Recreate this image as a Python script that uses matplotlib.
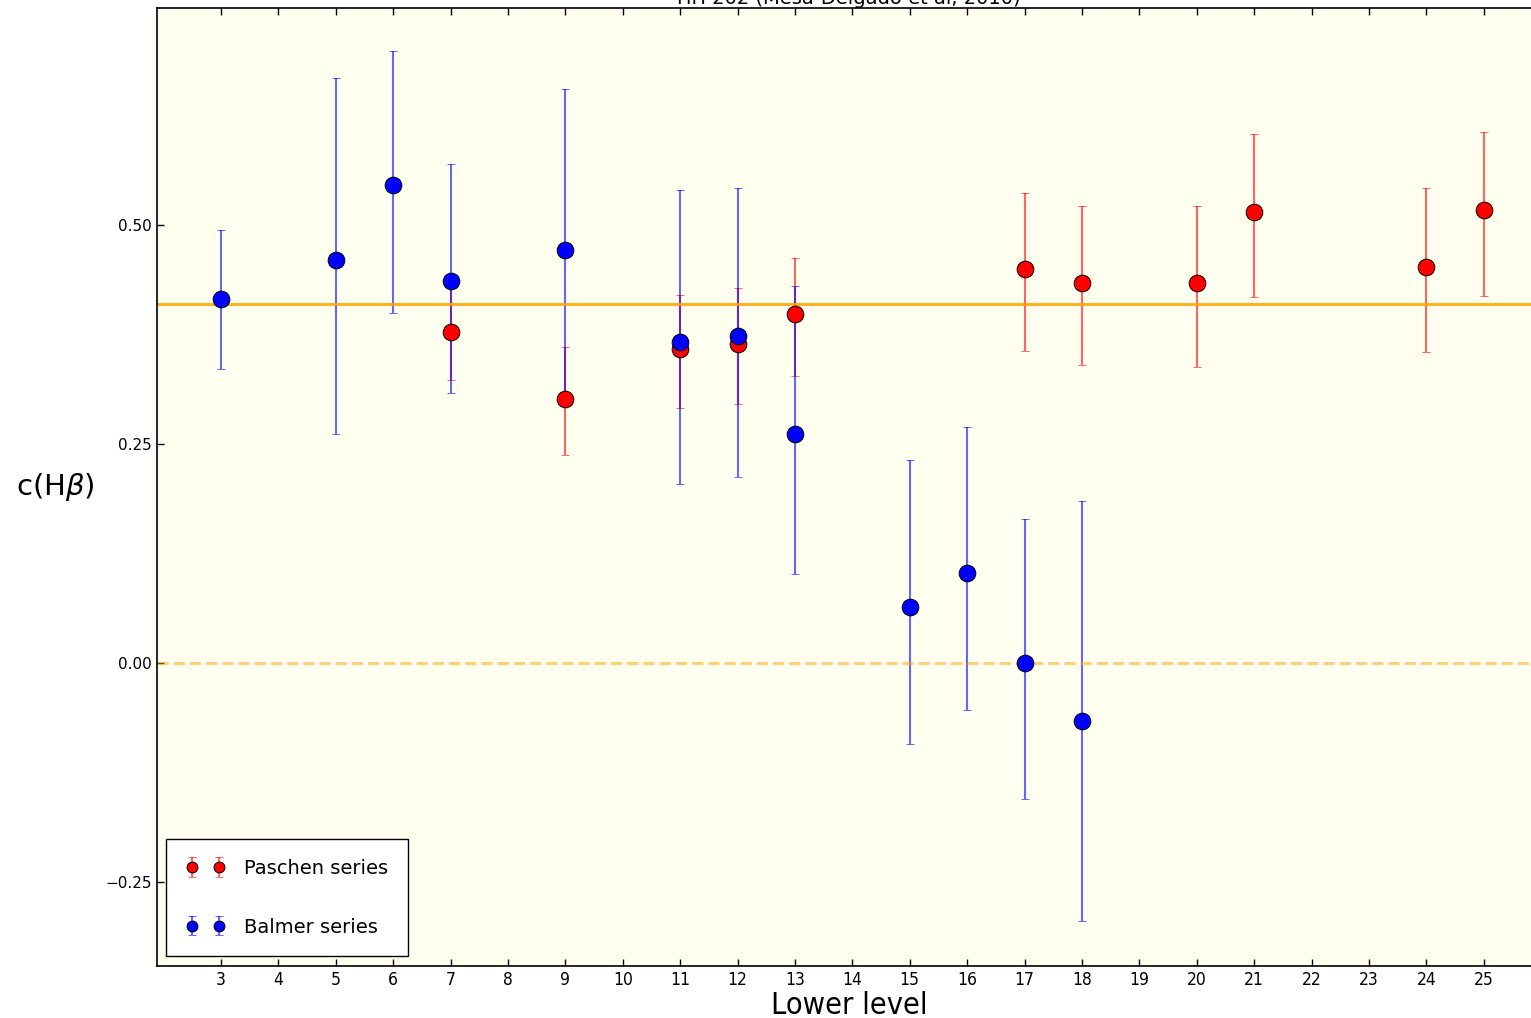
import matplotlib
matplotlib.use('Agg')
import matplotlib.pyplot as plt
from matplotlib import font_manager

# c(Hbeta) from Paschen and Balmer lines versus lower level
paschen_level = [7, 9, 11, 12, 13, 17, 18, 20, 21, 24, 25]
paschen_c = [0.378, 0.302, 0.358, 0.364, 0.398, 0.450, 0.434, 0.434, 0.515, 0.452, 0.517]
paschen_err_lo = [0.055, 0.064, 0.067, 0.068, 0.070, 0.094, 0.094, 0.096, 0.097, 0.097, 0.098]
paschen_err_hi = [0.051, 0.059, 0.062, 0.064, 0.064, 0.087, 0.088, 0.088, 0.089, 0.090, 0.089]

balmer_level = [3, 5, 6, 7, 9, 11, 12, 13, 15, 16, 17, 18]
balmer_c = [0.416, 0.460, 0.546, 0.436, 0.472, 0.367, 0.373, 0.261, 0.064, 0.103, 0.000, -0.066]
balmer_err_lo = [0.080, 0.198, 0.146, 0.128, 0.169, 0.163, 0.161, 0.159, 0.156, 0.156, 0.155, 0.228]
balmer_err_hi = [0.078, 0.208, 0.152, 0.133, 0.183, 0.173, 0.169, 0.169, 0.168, 0.167, 0.164, 0.251]

c_adopted = 0.41
xticks = list(range(3, 26))
yticks = [-0.25, 0.0, 0.25, 0.5]

# narrow face for the x axis texts, if one is around
names = {f.name for f in font_manager.fontManager.ttflist}
narrow = 'Liberation Sans Narrow' if 'Liberation Sans Narrow' in names else 'DejaVu Sans'

fig = plt.figure(figsize=(15.31, 10.18), dpi=100)
ax = fig.add_axes([0.1023, 0.0514, 0.9043, 0.9403])
ax.set_facecolor('#fffff0')

ax.errorbar(paschen_level, paschen_c, yerr=[paschen_err_lo, paschen_err_hi],
            fmt='o', color='red', mec='black', mew=0.7, ms=12,
            ecolor=(1, 0, 0, 0.6), elinewidth=1.5, capsize=3, label='Paschen series')
ax.errorbar(balmer_level, balmer_c, yerr=[balmer_err_lo, balmer_err_hi],
            fmt='o', color='blue', mec='black', mew=0.7, ms=12,
            ecolor=(0, 0, 1, 0.6), elinewidth=1.5, capsize=3, label='Balmer series')

ax.axhline(c_adopted, color='orange', lw=2.2, alpha=0.85)
ax.axhline(0.0, color='orange', lw=2.2, ls='--', alpha=0.5)

ax.set_xlim(1.88, 26)
ax.set_ylim(-0.345, 0.747)
ax.set_xticks(xticks)
ax.set_xticklabels([str(t) for t in xticks], family=narrow, fontstretch='condensed', fontsize=12.5)
ax.set_yticks(yticks)
ax.set_yticklabels(['\u22120.25', '0.00', '0.25', '0.50'], fontsize=11)
ax.tick_params(direction='in', top=True, right=True, length=5, width=1)
for s in ax.spines.values():
    s.set_linewidth(1.2)

ax.set_xlabel('Lower level', family=narrow, fontstretch='condensed', fontsize=22, labelpad=2)
ax.set_ylabel(r'c(H$\beta$)', fontsize=21, rotation=0, va='center', ha='center')
ax.yaxis.set_label_coords(-0.073, 0.50)
ax.set_title('HH 202 (Mesa-Delgado et al, 2010)', fontsize=14, pad=3)

leg = ax.legend(loc='lower left', numpoints=2, fontsize=14, labelspacing=2.05,
                borderpad=1.0, handletextpad=1.0, markerscale=0.65,
                fancybox=False, framealpha=1)
leg.get_frame().set_edgecolor('black')

fig.savefig('out.png', dpi=100)
